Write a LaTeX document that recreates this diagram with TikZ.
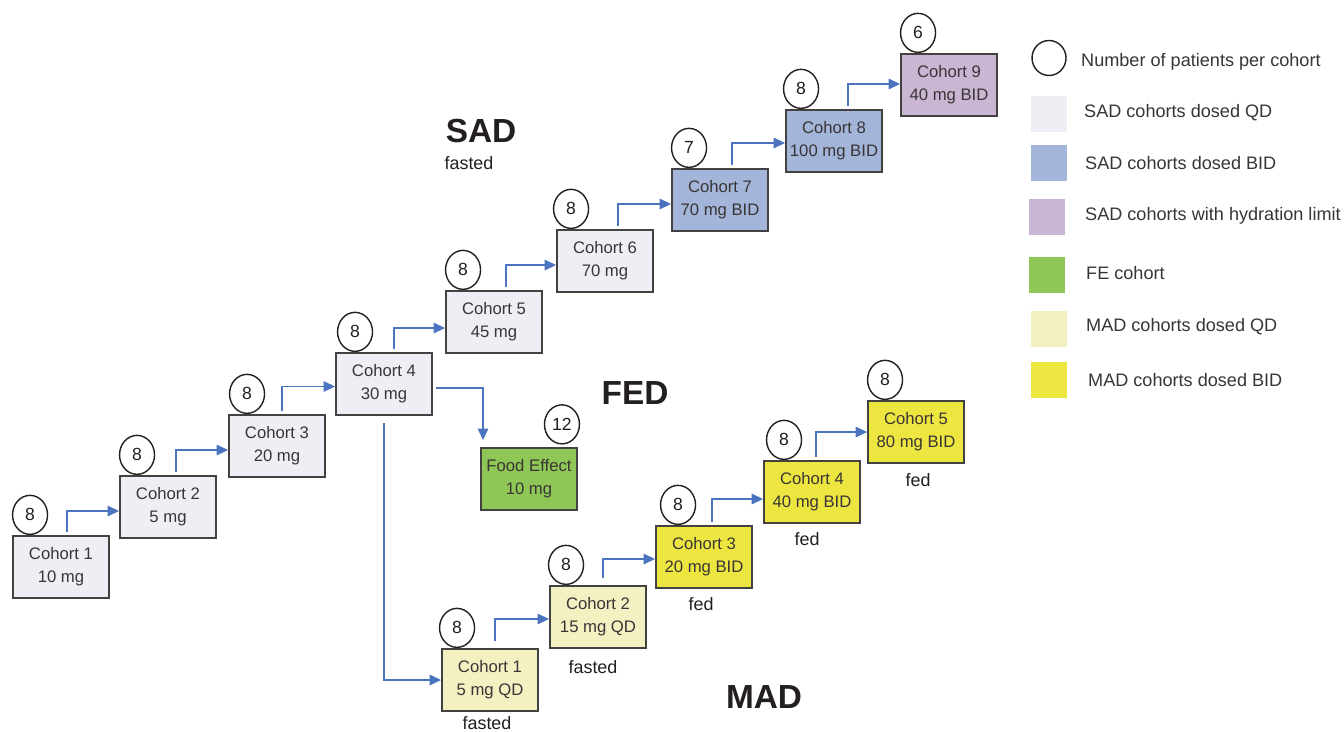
\documentclass[tikz,border=0pt]{standalone}
\usepackage{fontspec}
\setmainfont{Liberation Sans}
\usetikzlibrary{shapes.geometric,arrows.meta,calc}
\definecolor{sadqd}{HTML}{EEEFF4}
\definecolor{sadbid}{HTML}{A3B5D9}
\definecolor{sadhyd}{HTML}{CAB5D3}
\definecolor{fecol}{HTML}{8FC756}
\definecolor{madqd}{HTML}{F3F1C2}
\definecolor{madbid}{HTML}{EEE640}
\definecolor{arrblue}{HTML}{4A74C0}
\definecolor{ink}{HTML}{231F20}
\begin{document}
\begin{tikzpicture}[x=0.02cm,y=-0.02cm,
 box/.style={draw=ink!85, line width=1.1pt, minimum width=1.92cm, minimum height=1.24cm, inner sep=0pt, align=center, font=\fontsize{9.5}{13}\selectfont, text=ink!90},
 cnt/.style={draw=ink, ellipse, line width=0.8pt, minimum width=0.7cm, minimum height=0.78cm, inner sep=0pt, font=\fontsize{10}{12}\selectfont, text=ink, anchor=south, fill=white},
 arr/.style={draw=arrblue, line width=0.6pt, -{Triangle[length=6.5pt,width=6pt]}},
 big/.style={font=\fontsize{19}{22}\selectfont\bfseries, text=ink},
 sub/.style={font=\fontsize{10.2}{12}\selectfont, text=ink},
 sw/.style={minimum width=0.72cm, minimum height=0.72cm, inner sep=0pt},
 leg/.style={anchor=west, font=\fontsize{10.3}{12}\selectfont, text=ink!90},
]
\useasboundingbox[fill=white] (0,0) rectangle (1344,731);

% SAD boxes
\node[box, fill=sadqd] (s1) at (61,567) {Cohort 1\\10 mg};
\node[box, fill=sadqd] (s2) at (168,507) {Cohort 2\\5 mg};
\node[box, fill=sadqd] (s3) at (277,446) {Cohort 3\\20 mg};
\node[box, fill=sadqd] (s4) at (384,384) {Cohort 4\\30 mg};
\node[box, fill=sadqd] (s5) at (494,322) {Cohort 5\\45 mg};
\node[box, fill=sadqd] (s6) at (605,261) {Cohort 6\\70 mg};
\node[box, fill=sadbid] (s7) at (720,200) {Cohort 7\\70 mg BID};
\node[box, fill=sadbid] (s8) at (834,141) {Cohort 8\\100 mg BID};
\node[box, fill=sadhyd] (s9) at (949,85) {Cohort 9\\40 mg BID};
\node[box, fill=fecol] (fe) at (529,479) {Food Effect\\10 mg};

% MAD boxes
\node[box, fill=madqd] (m1) at (490,680) {Cohort 1\\5 mg QD};
\node[box, fill=madqd] (m2) at (598,617) {Cohort 2\\15 mg QD};
\node[box, fill=madbid] (m3) at (704,557) {Cohort 3\\20 mg BID};
\node[box, fill=madbid] (m4) at (812,492) {Cohort 4\\40 mg BID};
\node[box, fill=madbid] (m5) at (916,432) {Cohort 5\\80 mg BID};

% patient counts
\node[cnt] (n1) at ([xshift=0.36cm]s1.north west) {8};
\node[cnt] (n2) at ([xshift=0.36cm]s2.north west) {8};
\node[cnt] (n3) at ([xshift=0.38cm]s3.north west) {8};
\node[cnt] (n4) at ([xshift=0.40cm]s4.north west) {8};
\node[cnt] (n5) at ([xshift=0.36cm]s5.north west) {8};
\node[cnt] (n6) at ([xshift=0.30cm]s6.north west) {8};
\node[cnt] (n7) at ([xshift=0.36cm]s7.north west) {7};
\node[cnt] (n8) at ([xshift=0.32cm]s8.north west) {8};
\node[cnt] (n9) at ([xshift=0.36cm]s9.north west) {6};
\node[cnt] (nf) at ([xshift=-0.32cm,yshift=0.05cm]fe.north east) {12};
\node[cnt] (nm1) at ([xshift=0.32cm]m1.north west) {8};
\node[cnt] (nm2) at ([xshift=0.34cm]m2.north west) {8};
\node[cnt] (nm3) at ([xshift=0.46cm]m3.north west) {8};
\node[cnt] (nm4) at ([xshift=0.42cm]m4.north west) {8};
\node[cnt] (nm5) at ([xshift=0.36cm]m5.north west) {8};

% SAD escalation arrows
\draw[arr] ([xshift=0.12cm,yshift=2pt]s1.north) |- ([yshift=-0.08cm]s2.west);
\draw[arr] ([xshift=0.16cm,yshift=2pt]s2.north) |- ([yshift=-0.08cm]s3.west);
\draw[arr] ([xshift=0.10cm,yshift=2pt]s3.north) |- ([yshift=-0.05cm]s4.west);
\draw[arr] ([xshift=0.20cm,yshift=2pt]s4.north) |- ([yshift=-0.12cm]s5.west);
\draw[arr] ([xshift=0.24cm,yshift=2pt]s5.north) |- ([yshift=-0.08cm]s6.west);
\draw[arr] ([xshift=0.26cm,yshift=2pt]s6.north) |- ([yshift=-0.08cm]s7.west);
\draw[arr] ([xshift=0.24cm,yshift=2pt]s7.north) |- ([yshift=-0.04cm]s8.west);
\draw[arr] ([xshift=0.28cm,yshift=2pt]s8.north) |- ([yshift=0.02cm]s9.west);

% branches from cohort 4
\draw[arr] ([xshift=2pt,yshift=-0.08cm]s4.east) -| ([xshift=-0.92cm,yshift=4pt]fe.north);
\draw[arr] ([yshift=-4pt]s4.south) |- (m1.west);

% MAD escalation arrows
\draw[arr] ([xshift=0.10cm,yshift=4pt]m1.north) |- ([yshift=-0.04cm]m2.west);
\draw[arr] ([xshift=0.10cm,yshift=4pt]m2.north) |- ([yshift=-0.04cm]m3.west);
\draw[arr] ([xshift=0.16cm,yshift=2pt]m3.north) |- ([yshift=-0.14cm]m4.west);
\draw[arr] ([xshift=0.08cm,yshift=2pt]m4.north) |- (m5.west);

% sub labels
\node[sub] (f1) at (487,723) {fasted};
\node[sub] (f2) at (593,667) {fasted};
\node[sub] (f3) at (701,604) {fed};
\node[sub] (f4) at (807,539) {fed};
\node[sub] (f5) at (918,480) {fed};

% big labels
\node[big] (lsad) at (481,131) {SAD};
\node[sub] (lfast) at (469,163) {fasted};
\node[big] (lfed) at (635,393) {FED};
\node[big] (lmad) at (764,697) {MAD};

% legend
\node[cnt, anchor=center, minimum width=0.68cm, minimum height=0.7cm] (lc) at (1049,58) {};
\node[leg] (t0) at (1075,62) {Number of patients per cohort};
\node[sw, fill=sadqd] (w1) at (1049,114) {};
\node[leg] (t1) at (1078,113) {SAD cohorts dosed QD};
\node[sw, fill=sadbid] (w2) at (1049,163) {};
\node[leg] (t2) at (1079,163) {SAD cohorts dosed BID};
\node[sw, fill=sadhyd] (w3) at (1047,217) {};
\node[leg] (t3) at (1079,216) {SAD cohorts with hydration limit};
\node[sw, fill=fecol] (w4) at (1047,275) {};
\node[leg] (t4) at (1080,273) {FE cohort};
\node[sw, fill=madqd] (w5) at (1049,329) {};
\node[leg] (t5) at (1080,327) {MAD cohorts dosed QD};
\node[sw, fill=madbid] (w6) at (1049,380) {};
\node[leg] (t6) at (1082,380) {MAD cohorts dosed BID};
\end{tikzpicture}
\end{document}
